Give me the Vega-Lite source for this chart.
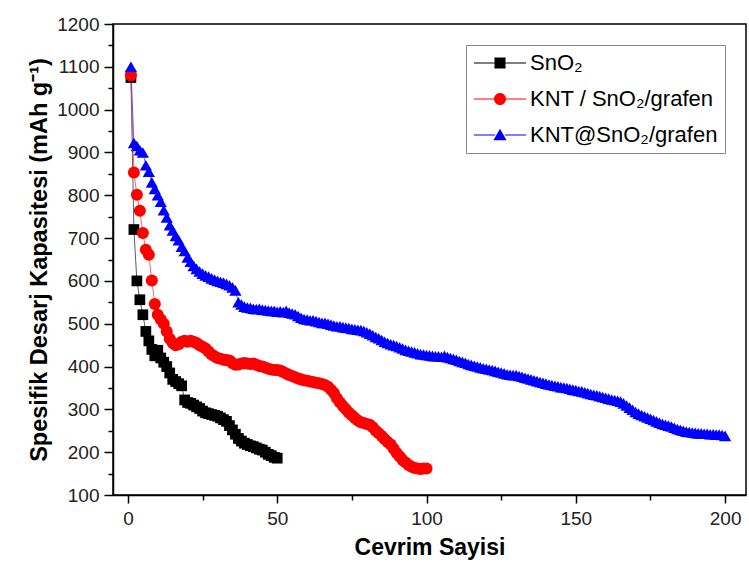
{
"$schema": "https://vega.github.io/schema/vega-lite/v6.json",
"width": 633, "height": 471,
"autosize": {"type": "none"},
"padding": {"left": 113, "top": 24, "right": 3, "bottom": 76},
"background": "white",
"config": {"font": "Liberation Sans", "view": {"stroke": "black", "strokeWidth": 1.5}},
"data": {"values": [
{"series":"SnO₂","cycle":1,"capacity":1075},{"series":"SnO₂","cycle":2,"capacity":720},{"series":"SnO₂","cycle":3,"capacity":600},{"series":"SnO₂","cycle":4,"capacity":556},{"series":"SnO₂","cycle":5,"capacity":521},{"series":"SnO₂","cycle":6,"capacity":482},{"series":"SnO₂","cycle":7,"capacity":460},{"series":"SnO₂","cycle":8,"capacity":440},{"series":"SnO₂","cycle":9,"capacity":425},{"series":"SnO₂","cycle":10,"capacity":438},
{"series":"SnO₂","cycle":11,"capacity":420},{"series":"SnO₂","cycle":12,"capacity":410},{"series":"SnO₂","cycle":13,"capacity":400},{"series":"SnO₂","cycle":14,"capacity":385},{"series":"SnO₂","cycle":15,"capacity":370},{"series":"SnO₂","cycle":16,"capacity":365},{"series":"SnO₂","cycle":17,"capacity":360},{"series":"SnO₂","cycle":18,"capacity":355},{"series":"SnO₂","cycle":19,"capacity":322},{"series":"SnO₂","cycle":20,"capacity":316},
{"series":"SnO₂","cycle":21,"capacity":314},{"series":"SnO₂","cycle":22,"capacity":310},{"series":"SnO₂","cycle":23,"capacity":306},{"series":"SnO₂","cycle":24,"capacity":302},{"series":"SnO₂","cycle":25,"capacity":296},{"series":"SnO₂","cycle":26,"capacity":292},{"series":"SnO₂","cycle":27,"capacity":290},{"series":"SnO₂","cycle":28,"capacity":288},{"series":"SnO₂","cycle":29,"capacity":286},{"series":"SnO₂","cycle":30,"capacity":284},
{"series":"SnO₂","cycle":31,"capacity":280},{"series":"SnO₂","cycle":32,"capacity":276},{"series":"SnO₂","cycle":33,"capacity":272},{"series":"SnO₂","cycle":34,"capacity":262},{"series":"SnO₂","cycle":35,"capacity":252},{"series":"SnO₂","cycle":36,"capacity":242},{"series":"SnO₂","cycle":37,"capacity":232},{"series":"SnO₂","cycle":38,"capacity":226},{"series":"SnO₂","cycle":39,"capacity":221},{"series":"SnO₂","cycle":40,"capacity":218},
{"series":"SnO₂","cycle":41,"capacity":215},{"series":"SnO₂","cycle":42,"capacity":213},{"series":"SnO₂","cycle":43,"capacity":210},{"series":"SnO₂","cycle":44,"capacity":207},{"series":"SnO₂","cycle":45,"capacity":205},{"series":"SnO₂","cycle":46,"capacity":200},{"series":"SnO₂","cycle":47,"capacity":195},{"series":"SnO₂","cycle":48,"capacity":192},{"series":"SnO₂","cycle":49,"capacity":188},{"series":"SnO₂","cycle":50,"capacity":186},
{"series":"KNT / SnO₂/grafen","cycle":1,"capacity":1080},{"series":"KNT / SnO₂/grafen","cycle":2,"capacity":853},{"series":"KNT / SnO₂/grafen","cycle":3,"capacity":801},{"series":"KNT / SnO₂/grafen","cycle":4,"capacity":764},{"series":"KNT / SnO₂/grafen","cycle":5,"capacity":712},{"series":"KNT / SnO₂/grafen","cycle":6,"capacity":673},{"series":"KNT / SnO₂/grafen","cycle":7,"capacity":661},{"series":"KNT / SnO₂/grafen","cycle":8,"capacity":601},{"series":"KNT / SnO₂/grafen","cycle":9,"capacity":546},{"series":"KNT / SnO₂/grafen","cycle":10,"capacity":521},
{"series":"KNT / SnO₂/grafen","cycle":11,"capacity":510},{"series":"KNT / SnO₂/grafen","cycle":12,"capacity":500},{"series":"KNT / SnO₂/grafen","cycle":13,"capacity":482},{"series":"KNT / SnO₂/grafen","cycle":14,"capacity":465},{"series":"KNT / SnO₂/grafen","cycle":15,"capacity":455},{"series":"KNT / SnO₂/grafen","cycle":16,"capacity":450},{"series":"KNT / SnO₂/grafen","cycle":17,"capacity":452},{"series":"KNT / SnO₂/grafen","cycle":18,"capacity":458},{"series":"KNT / SnO₂/grafen","cycle":19,"capacity":460},{"series":"KNT / SnO₂/grafen","cycle":20,"capacity":458},
{"series":"KNT / SnO₂/grafen","cycle":21,"capacity":460},{"series":"KNT / SnO₂/grafen","cycle":22,"capacity":458},{"series":"KNT / SnO₂/grafen","cycle":23,"capacity":455},{"series":"KNT / SnO₂/grafen","cycle":24,"capacity":450},{"series":"KNT / SnO₂/grafen","cycle":25,"capacity":446},{"series":"KNT / SnO₂/grafen","cycle":26,"capacity":442},{"series":"KNT / SnO₂/grafen","cycle":27,"capacity":435},{"series":"KNT / SnO₂/grafen","cycle":28,"capacity":428},{"series":"KNT / SnO₂/grafen","cycle":29,"capacity":424},{"series":"KNT / SnO₂/grafen","cycle":30,"capacity":420},
{"series":"KNT / SnO₂/grafen","cycle":31,"capacity":418},{"series":"KNT / SnO₂/grafen","cycle":32,"capacity":416},{"series":"KNT / SnO₂/grafen","cycle":33,"capacity":415},{"series":"KNT / SnO₂/grafen","cycle":34,"capacity":414},{"series":"KNT / SnO₂/grafen","cycle":35,"capacity":408},{"series":"KNT / SnO₂/grafen","cycle":36,"capacity":404},{"series":"KNT / SnO₂/grafen","cycle":37,"capacity":405},{"series":"KNT / SnO₂/grafen","cycle":38,"capacity":407},{"series":"KNT / SnO₂/grafen","cycle":39,"capacity":408},{"series":"KNT / SnO₂/grafen","cycle":40,"capacity":407},
{"series":"KNT / SnO₂/grafen","cycle":41,"capacity":406},{"series":"KNT / SnO₂/grafen","cycle":42,"capacity":407},{"series":"KNT / SnO₂/grafen","cycle":43,"capacity":404},{"series":"KNT / SnO₂/grafen","cycle":44,"capacity":401},{"series":"KNT / SnO₂/grafen","cycle":45,"capacity":400},{"series":"KNT / SnO₂/grafen","cycle":46,"capacity":398},{"series":"KNT / SnO₂/grafen","cycle":47,"capacity":395},{"series":"KNT / SnO₂/grafen","cycle":48,"capacity":393},{"series":"KNT / SnO₂/grafen","cycle":49,"capacity":392},{"series":"KNT / SnO₂/grafen","cycle":50,"capacity":392},
{"series":"KNT / SnO₂/grafen","cycle":51,"capacity":391},{"series":"KNT / SnO₂/grafen","cycle":52,"capacity":387},{"series":"KNT / SnO₂/grafen","cycle":53,"capacity":384},{"series":"KNT / SnO₂/grafen","cycle":54,"capacity":380},{"series":"KNT / SnO₂/grafen","cycle":55,"capacity":378},{"series":"KNT / SnO₂/grafen","cycle":56,"capacity":375},{"series":"KNT / SnO₂/grafen","cycle":57,"capacity":372},{"series":"KNT / SnO₂/grafen","cycle":58,"capacity":370},{"series":"KNT / SnO₂/grafen","cycle":59,"capacity":368},{"series":"KNT / SnO₂/grafen","cycle":60,"capacity":367},
{"series":"KNT / SnO₂/grafen","cycle":61,"capacity":365},{"series":"KNT / SnO₂/grafen","cycle":62,"capacity":364},{"series":"KNT / SnO₂/grafen","cycle":63,"capacity":362},{"series":"KNT / SnO₂/grafen","cycle":64,"capacity":361},{"series":"KNT / SnO₂/grafen","cycle":65,"capacity":359},{"series":"KNT / SnO₂/grafen","cycle":66,"capacity":357},{"series":"KNT / SnO₂/grafen","cycle":67,"capacity":353},{"series":"KNT / SnO₂/grafen","cycle":68,"capacity":346},{"series":"KNT / SnO₂/grafen","cycle":69,"capacity":338},{"series":"KNT / SnO₂/grafen","cycle":70,"capacity":326},
{"series":"KNT / SnO₂/grafen","cycle":71,"capacity":316},{"series":"KNT / SnO₂/grafen","cycle":72,"capacity":308},{"series":"KNT / SnO₂/grafen","cycle":73,"capacity":300},{"series":"KNT / SnO₂/grafen","cycle":74,"capacity":292},{"series":"KNT / SnO₂/grafen","cycle":75,"capacity":286},{"series":"KNT / SnO₂/grafen","cycle":76,"capacity":280},{"series":"KNT / SnO₂/grafen","cycle":77,"capacity":274},{"series":"KNT / SnO₂/grafen","cycle":78,"capacity":270},{"series":"KNT / SnO₂/grafen","cycle":79,"capacity":268},{"series":"KNT / SnO₂/grafen","cycle":80,"capacity":266},
{"series":"KNT / SnO₂/grafen","cycle":81,"capacity":264},{"series":"KNT / SnO₂/grafen","cycle":82,"capacity":258},{"series":"KNT / SnO₂/grafen","cycle":83,"capacity":250},{"series":"KNT / SnO₂/grafen","cycle":84,"capacity":244},{"series":"KNT / SnO₂/grafen","cycle":85,"capacity":238},{"series":"KNT / SnO₂/grafen","cycle":86,"capacity":230},{"series":"KNT / SnO₂/grafen","cycle":87,"capacity":224},{"series":"KNT / SnO₂/grafen","cycle":88,"capacity":218},{"series":"KNT / SnO₂/grafen","cycle":89,"capacity":208},{"series":"KNT / SnO₂/grafen","cycle":90,"capacity":198},
{"series":"KNT / SnO₂/grafen","cycle":91,"capacity":190},{"series":"KNT / SnO₂/grafen","cycle":92,"capacity":182},{"series":"KNT / SnO₂/grafen","cycle":93,"capacity":176},{"series":"KNT / SnO₂/grafen","cycle":94,"capacity":170},{"series":"KNT / SnO₂/grafen","cycle":95,"capacity":166},{"series":"KNT / SnO₂/grafen","cycle":96,"capacity":163},{"series":"KNT / SnO₂/grafen","cycle":97,"capacity":162},{"series":"KNT / SnO₂/grafen","cycle":98,"capacity":161},{"series":"KNT / SnO₂/grafen","cycle":99,"capacity":162},{"series":"KNT / SnO₂/grafen","cycle":100,"capacity":162},
{"series":"KNT@SnO₂/grafen","cycle":1,"capacity":1100},{"series":"KNT@SnO₂/grafen","cycle":2,"capacity":922},{"series":"KNT@SnO₂/grafen","cycle":3,"capacity":915},{"series":"KNT@SnO₂/grafen","cycle":4,"capacity":905},{"series":"KNT@SnO₂/grafen","cycle":5,"capacity":900},{"series":"KNT@SnO₂/grafen","cycle":6,"capacity":870},{"series":"KNT@SnO₂/grafen","cycle":7,"capacity":855},{"series":"KNT@SnO₂/grafen","cycle":8,"capacity":830},{"series":"KNT@SnO₂/grafen","cycle":9,"capacity":815},{"series":"KNT@SnO₂/grafen","cycle":10,"capacity":800},
{"series":"KNT@SnO₂/grafen","cycle":11,"capacity":785},{"series":"KNT@SnO₂/grafen","cycle":12,"capacity":765},{"series":"KNT@SnO₂/grafen","cycle":13,"capacity":748},{"series":"KNT@SnO₂/grafen","cycle":14,"capacity":730},{"series":"KNT@SnO₂/grafen","cycle":15,"capacity":718},{"series":"KNT@SnO₂/grafen","cycle":16,"capacity":705},{"series":"KNT@SnO₂/grafen","cycle":17,"capacity":695},{"series":"KNT@SnO₂/grafen","cycle":18,"capacity":680},{"series":"KNT@SnO₂/grafen","cycle":19,"capacity":670},{"series":"KNT@SnO₂/grafen","cycle":20,"capacity":655},
{"series":"KNT@SnO₂/grafen","cycle":21,"capacity":645},{"series":"KNT@SnO₂/grafen","cycle":22,"capacity":635},{"series":"KNT@SnO₂/grafen","cycle":23,"capacity":628},{"series":"KNT@SnO₂/grafen","cycle":24,"capacity":622},{"series":"KNT@SnO₂/grafen","cycle":25,"capacity":617},{"series":"KNT@SnO₂/grafen","cycle":26,"capacity":613},{"series":"KNT@SnO₂/grafen","cycle":27,"capacity":610},{"series":"KNT@SnO₂/grafen","cycle":28,"capacity":606},{"series":"KNT@SnO₂/grafen","cycle":29,"capacity":603},{"series":"KNT@SnO₂/grafen","cycle":30,"capacity":600},
{"series":"KNT@SnO₂/grafen","cycle":31,"capacity":598},{"series":"KNT@SnO₂/grafen","cycle":32,"capacity":596},{"series":"KNT@SnO₂/grafen","cycle":33,"capacity":593},{"series":"KNT@SnO₂/grafen","cycle":34,"capacity":590},{"series":"KNT@SnO₂/grafen","cycle":35,"capacity":585},{"series":"KNT@SnO₂/grafen","cycle":36,"capacity":578},{"series":"KNT@SnO₂/grafen","cycle":37,"capacity":550},{"series":"KNT@SnO₂/grafen","cycle":38,"capacity":545},{"series":"KNT@SnO₂/grafen","cycle":39,"capacity":540},{"series":"KNT@SnO₂/grafen","cycle":40,"capacity":538},
{"series":"KNT@SnO₂/grafen","cycle":41,"capacity":537},{"series":"KNT@SnO₂/grafen","cycle":42,"capacity":535},{"series":"KNT@SnO₂/grafen","cycle":43,"capacity":534},{"series":"KNT@SnO₂/grafen","cycle":44,"capacity":535},{"series":"KNT@SnO₂/grafen","cycle":45,"capacity":533},{"series":"KNT@SnO₂/grafen","cycle":46,"capacity":532},{"series":"KNT@SnO₂/grafen","cycle":47,"capacity":531},{"series":"KNT@SnO₂/grafen","cycle":48,"capacity":530},{"series":"KNT@SnO₂/grafen","cycle":49,"capacity":530},{"series":"KNT@SnO₂/grafen","cycle":50,"capacity":528},
{"series":"KNT@SnO₂/grafen","cycle":51,"capacity":529},{"series":"KNT@SnO₂/grafen","cycle":52,"capacity":527},{"series":"KNT@SnO₂/grafen","cycle":53,"capacity":530},{"series":"KNT@SnO₂/grafen","cycle":54,"capacity":526},{"series":"KNT@SnO₂/grafen","cycle":55,"capacity":524},{"series":"KNT@SnO₂/grafen","cycle":56,"capacity":522},{"series":"KNT@SnO₂/grafen","cycle":57,"capacity":518},{"series":"KNT@SnO₂/grafen","cycle":58,"capacity":514},{"series":"KNT@SnO₂/grafen","cycle":59,"capacity":511},{"series":"KNT@SnO₂/grafen","cycle":60,"capacity":510},
{"series":"KNT@SnO₂/grafen","cycle":61,"capacity":508},{"series":"KNT@SnO₂/grafen","cycle":62,"capacity":508},{"series":"KNT@SnO₂/grafen","cycle":63,"capacity":506},{"series":"KNT@SnO₂/grafen","cycle":64,"capacity":504},{"series":"KNT@SnO₂/grafen","cycle":65,"capacity":502},{"series":"KNT@SnO₂/grafen","cycle":66,"capacity":502},{"series":"KNT@SnO₂/grafen","cycle":67,"capacity":500},{"series":"KNT@SnO₂/grafen","cycle":68,"capacity":498},{"series":"KNT@SnO₂/grafen","cycle":69,"capacity":496},{"series":"KNT@SnO₂/grafen","cycle":70,"capacity":494},
{"series":"KNT@SnO₂/grafen","cycle":71,"capacity":494},{"series":"KNT@SnO₂/grafen","cycle":72,"capacity":492},{"series":"KNT@SnO₂/grafen","cycle":73,"capacity":491},{"series":"KNT@SnO₂/grafen","cycle":74,"capacity":490},{"series":"KNT@SnO₂/grafen","cycle":75,"capacity":488},{"series":"KNT@SnO₂/grafen","cycle":76,"capacity":487},{"series":"KNT@SnO₂/grafen","cycle":77,"capacity":486},{"series":"KNT@SnO₂/grafen","cycle":78,"capacity":485},{"series":"KNT@SnO₂/grafen","cycle":79,"capacity":483},{"series":"KNT@SnO₂/grafen","cycle":80,"capacity":480},
{"series":"KNT@SnO₂/grafen","cycle":81,"capacity":477},{"series":"KNT@SnO₂/grafen","cycle":82,"capacity":473},{"series":"KNT@SnO₂/grafen","cycle":83,"capacity":469},{"series":"KNT@SnO₂/grafen","cycle":84,"capacity":466},{"series":"KNT@SnO₂/grafen","cycle":85,"capacity":462},{"series":"KNT@SnO₂/grafen","cycle":86,"capacity":458},{"series":"KNT@SnO₂/grafen","cycle":87,"capacity":455},{"series":"KNT@SnO₂/grafen","cycle":88,"capacity":452},{"series":"KNT@SnO₂/grafen","cycle":89,"capacity":450},{"series":"KNT@SnO₂/grafen","cycle":90,"capacity":448},
{"series":"KNT@SnO₂/grafen","cycle":91,"capacity":445},{"series":"KNT@SnO₂/grafen","cycle":92,"capacity":442},{"series":"KNT@SnO₂/grafen","cycle":93,"capacity":439},{"series":"KNT@SnO₂/grafen","cycle":94,"capacity":437},{"series":"KNT@SnO₂/grafen","cycle":95,"capacity":435},{"series":"KNT@SnO₂/grafen","cycle":96,"capacity":433},{"series":"KNT@SnO₂/grafen","cycle":97,"capacity":431},{"series":"KNT@SnO₂/grafen","cycle":98,"capacity":429},{"series":"KNT@SnO₂/grafen","cycle":99,"capacity":428},{"series":"KNT@SnO₂/grafen","cycle":100,"capacity":427},
{"series":"KNT@SnO₂/grafen","cycle":101,"capacity":426},{"series":"KNT@SnO₂/grafen","cycle":102,"capacity":425},{"series":"KNT@SnO₂/grafen","cycle":103,"capacity":424},{"series":"KNT@SnO₂/grafen","cycle":104,"capacity":424},{"series":"KNT@SnO₂/grafen","cycle":105,"capacity":423},{"series":"KNT@SnO₂/grafen","cycle":106,"capacity":425},{"series":"KNT@SnO₂/grafen","cycle":107,"capacity":422},{"series":"KNT@SnO₂/grafen","cycle":108,"capacity":420},{"series":"KNT@SnO₂/grafen","cycle":109,"capacity":418},{"series":"KNT@SnO₂/grafen","cycle":110,"capacity":416},
{"series":"KNT@SnO₂/grafen","cycle":111,"capacity":413},{"series":"KNT@SnO₂/grafen","cycle":112,"capacity":411},{"series":"KNT@SnO₂/grafen","cycle":113,"capacity":409},{"series":"KNT@SnO₂/grafen","cycle":114,"capacity":406},{"series":"KNT@SnO₂/grafen","cycle":115,"capacity":404},{"series":"KNT@SnO₂/grafen","cycle":116,"capacity":402},{"series":"KNT@SnO₂/grafen","cycle":117,"capacity":400},{"series":"KNT@SnO₂/grafen","cycle":118,"capacity":398},{"series":"KNT@SnO₂/grafen","cycle":119,"capacity":396},{"series":"KNT@SnO₂/grafen","cycle":120,"capacity":395},
{"series":"KNT@SnO₂/grafen","cycle":121,"capacity":393},{"series":"KNT@SnO₂/grafen","cycle":122,"capacity":392},{"series":"KNT@SnO₂/grafen","cycle":123,"capacity":390},{"series":"KNT@SnO₂/grafen","cycle":124,"capacity":388},{"series":"KNT@SnO₂/grafen","cycle":125,"capacity":386},{"series":"KNT@SnO₂/grafen","cycle":126,"capacity":384},{"series":"KNT@SnO₂/grafen","cycle":127,"capacity":382},{"series":"KNT@SnO₂/grafen","cycle":128,"capacity":381},{"series":"KNT@SnO₂/grafen","cycle":129,"capacity":380},{"series":"KNT@SnO₂/grafen","cycle":130,"capacity":380},
{"series":"KNT@SnO₂/grafen","cycle":131,"capacity":378},{"series":"KNT@SnO₂/grafen","cycle":132,"capacity":376},{"series":"KNT@SnO₂/grafen","cycle":133,"capacity":374},{"series":"KNT@SnO₂/grafen","cycle":134,"capacity":372},{"series":"KNT@SnO₂/grafen","cycle":135,"capacity":370},{"series":"KNT@SnO₂/grafen","cycle":136,"capacity":368},{"series":"KNT@SnO₂/grafen","cycle":137,"capacity":366},{"series":"KNT@SnO₂/grafen","cycle":138,"capacity":364},{"series":"KNT@SnO₂/grafen","cycle":139,"capacity":362},{"series":"KNT@SnO₂/grafen","cycle":140,"capacity":360},
{"series":"KNT@SnO₂/grafen","cycle":141,"capacity":358},{"series":"KNT@SnO₂/grafen","cycle":142,"capacity":357},{"series":"KNT@SnO₂/grafen","cycle":143,"capacity":355},{"series":"KNT@SnO₂/grafen","cycle":144,"capacity":354},{"series":"KNT@SnO₂/grafen","cycle":145,"capacity":352},{"series":"KNT@SnO₂/grafen","cycle":146,"capacity":351},{"series":"KNT@SnO₂/grafen","cycle":147,"capacity":350},{"series":"KNT@SnO₂/grafen","cycle":148,"capacity":348},{"series":"KNT@SnO₂/grafen","cycle":149,"capacity":346},{"series":"KNT@SnO₂/grafen","cycle":150,"capacity":345},
{"series":"KNT@SnO₂/grafen","cycle":151,"capacity":343},{"series":"KNT@SnO₂/grafen","cycle":152,"capacity":342},{"series":"KNT@SnO₂/grafen","cycle":153,"capacity":340},{"series":"KNT@SnO₂/grafen","cycle":154,"capacity":338},{"series":"KNT@SnO₂/grafen","cycle":155,"capacity":336},{"series":"KNT@SnO₂/grafen","cycle":156,"capacity":334},{"series":"KNT@SnO₂/grafen","cycle":157,"capacity":333},{"series":"KNT@SnO₂/grafen","cycle":158,"capacity":331},{"series":"KNT@SnO₂/grafen","cycle":159,"capacity":329},{"series":"KNT@SnO₂/grafen","cycle":160,"capacity":327},
{"series":"KNT@SnO₂/grafen","cycle":161,"capacity":325},{"series":"KNT@SnO₂/grafen","cycle":162,"capacity":323},{"series":"KNT@SnO₂/grafen","cycle":163,"capacity":322},{"series":"KNT@SnO₂/grafen","cycle":164,"capacity":320},{"series":"KNT@SnO₂/grafen","cycle":165,"capacity":318},{"series":"KNT@SnO₂/grafen","cycle":166,"capacity":314},{"series":"KNT@SnO₂/grafen","cycle":167,"capacity":309},{"series":"KNT@SnO₂/grafen","cycle":168,"capacity":304},{"series":"KNT@SnO₂/grafen","cycle":169,"capacity":299},{"series":"KNT@SnO₂/grafen","cycle":170,"capacity":294},
{"series":"KNT@SnO₂/grafen","cycle":171,"capacity":290},{"series":"KNT@SnO₂/grafen","cycle":172,"capacity":287},{"series":"KNT@SnO₂/grafen","cycle":173,"capacity":284},{"series":"KNT@SnO₂/grafen","cycle":174,"capacity":281},{"series":"KNT@SnO₂/grafen","cycle":175,"capacity":278},{"series":"KNT@SnO₂/grafen","cycle":176,"capacity":275},{"series":"KNT@SnO₂/grafen","cycle":177,"capacity":272},{"series":"KNT@SnO₂/grafen","cycle":178,"capacity":269},{"series":"KNT@SnO₂/grafen","cycle":179,"capacity":266},{"series":"KNT@SnO₂/grafen","cycle":180,"capacity":264},
{"series":"KNT@SnO₂/grafen","cycle":181,"capacity":262},{"series":"KNT@SnO₂/grafen","cycle":182,"capacity":260},{"series":"KNT@SnO₂/grafen","cycle":183,"capacity":257},{"series":"KNT@SnO₂/grafen","cycle":184,"capacity":254},{"series":"KNT@SnO₂/grafen","cycle":185,"capacity":252},{"series":"KNT@SnO₂/grafen","cycle":186,"capacity":250},{"series":"KNT@SnO₂/grafen","cycle":187,"capacity":248},{"series":"KNT@SnO₂/grafen","cycle":188,"capacity":247},{"series":"KNT@SnO₂/grafen","cycle":189,"capacity":246},{"series":"KNT@SnO₂/grafen","cycle":190,"capacity":245},
{"series":"KNT@SnO₂/grafen","cycle":191,"capacity":244},{"series":"KNT@SnO₂/grafen","cycle":192,"capacity":244},{"series":"KNT@SnO₂/grafen","cycle":193,"capacity":243},{"series":"KNT@SnO₂/grafen","cycle":194,"capacity":243},{"series":"KNT@SnO₂/grafen","cycle":195,"capacity":242},{"series":"KNT@SnO₂/grafen","cycle":196,"capacity":242},{"series":"KNT@SnO₂/grafen","cycle":197,"capacity":241},{"series":"KNT@SnO₂/grafen","cycle":198,"capacity":241},{"series":"KNT@SnO₂/grafen","cycle":199,"capacity":240},{"series":"KNT@SnO₂/grafen","cycle":200,"capacity":238}
]},
"encoding": {
  "x": {"field": "cycle", "type": "quantitative",
    "scale": {"domain": [-5, 207], "nice": false, "zero": false},
    "axis": {"values": [0,25,50,75,100,125,150,175,200], "format": "d", "labelExpr": "datum.value % 50 === 0 ? datum.label : ''",
      "tickSize": {"condition": {"test": "datum.value % 50 === 0", "value": 8}, "value": 5},
      "grid": false, "domainColor": "black", "domainWidth": 1.5, "tickColor": "black", "tickWidth": 1.5,
      "labelFont": "Liberation Sans", "labelFontSize": 19, "labelColor": "#222", "labelPadding": 6,
      "title": "Cevrim Sayisi", "titleFont": "Liberation Sans", "titleFontSize": 23, "titleFontWeight": "bold", "titleColor": "black", "titlePadding": 8}},
  "y": {"field": "capacity", "type": "quantitative",
    "scale": {"domain": [100, 1200], "nice": false, "zero": false},
    "axis": {"values": [100,150,200,250,300,350,400,450,500,550,600,650,700,750,800,850,900,950,1000,1050,1100,1150,1200],
      "format": "d", "labelExpr": "datum.value % 100 === 0 ? datum.label : ''",
      "tickSize": {"condition": {"test": "datum.value % 100 === 0", "value": 9}, "value": 5},
      "grid": false, "domainColor": "black", "domainWidth": 1.5, "tickColor": "black", "tickWidth": 1.5,
      "labelFont": "Liberation Sans", "labelFontSize": 19, "labelColor": "#222", "labelPadding": 5,
      "title": "Spesifik Desarj Kapasitesi (mAh g⁻¹)", "titleFont": "Liberation Sans", "titleFontSize": 23.5, "titleFontWeight": "bold", "titleColor": "black", "titlePadding": 5}}
},
"layer": [
  {"transform": [{"filter": {"field": "series", "equal": "SnO₂"}}], "mark": {"type": "line", "strokeWidth": 0.8, "color": "#333333"}},
  {"transform": [{"filter": {"field": "series", "equal": "KNT / SnO₂/grafen"}}], "mark": {"type": "line", "strokeWidth": 0.8, "color": "#ff4040"}},
  {"transform": [{"filter": {"field": "series", "equal": "KNT@SnO₂/grafen"}}], "mark": {"type": "line", "strokeWidth": 0.8, "color": "#4040ff"}},
  {"transform": [{"filter": {"field": "series", "equal": "SnO₂"}}], "mark": {"type": "point", "shape": "square", "filled": true, "opacity": 1, "color": "#000000", "size": 115}},
  {"transform": [{"filter": {"field": "series", "equal": "KNT / SnO₂/grafen"}}], "mark": {"type": "point", "shape": "circle", "filled": true, "opacity": 1, "color": "#ff0000", "size": 145}},
  {"transform": [{"filter": {"field": "series", "equal": "KNT@SnO₂/grafen"}}], "mark": {"type": "point", "shape": "triangle-up", "filled": true, "opacity": 1, "color": "#0000ff", "size": 150}},
  {"transform": [{"filter": "datum.cycle < 0"}],
   "mark": {"type": "point", "filled": true, "opacity": 1},
   "encoding": {
     "color": {"field": "series", "type": "nominal",
       "scale": {"domain": ["SnO₂", "KNT / SnO₂/grafen", "KNT@SnO₂/grafen"], "range": ["#000000", "#ff0000", "#0000ff"]},
       "legend": {"title": null, "orient": "none", "legendX": 353, "legendY": 21, "padding": 7,
         "strokeColor": "#888888", "fillColor": "white", "symbolSize": 400, "symbolOffset": 16, "symbolOpacity": 1,
         "labelFont": "Liberation Sans", "labelFontSize": 22, "labelColor": "black", "labelOffset": 19, "labelLimit": 400, "rowPadding": 14}},
     "shape": {"field": "series", "type": "nominal",
       "scale": {"domain": ["SnO₂", "KNT / SnO₂/grafen", "KNT@SnO₂/grafen"],
         "range": ["M-2.6,-0.05H-0.5V0.05H-2.6Z M0.5,-0.05H2.6V0.05H0.5Z M-0.55,-0.55H0.55V0.55H-0.55Z",
                   "M-2.6,-0.05H-0.5V0.05H-2.6Z M0.5,-0.05H2.6V0.05H0.5Z M-0.6,0A0.6,0.6,0,1,1,0.6,0A0.6,0.6,0,1,1,-0.6,0Z",
                   "M-2.6,-0.05H-0.5V0.05H-2.6Z M0.5,-0.05H2.6V0.05H0.5Z M0,-0.62L0.66,0.52H-0.66Z"]},
       "legend": {"title": null, "orient": "none", "legendX": 353, "legendY": 21, "padding": 7,
         "strokeColor": "#888888", "fillColor": "white", "symbolSize": 400, "symbolOffset": 16, "symbolOpacity": 1,
         "labelFont": "Liberation Sans", "labelFontSize": 22, "labelColor": "black", "labelOffset": 19, "labelLimit": 400, "rowPadding": 14}}
   }}
]
}
